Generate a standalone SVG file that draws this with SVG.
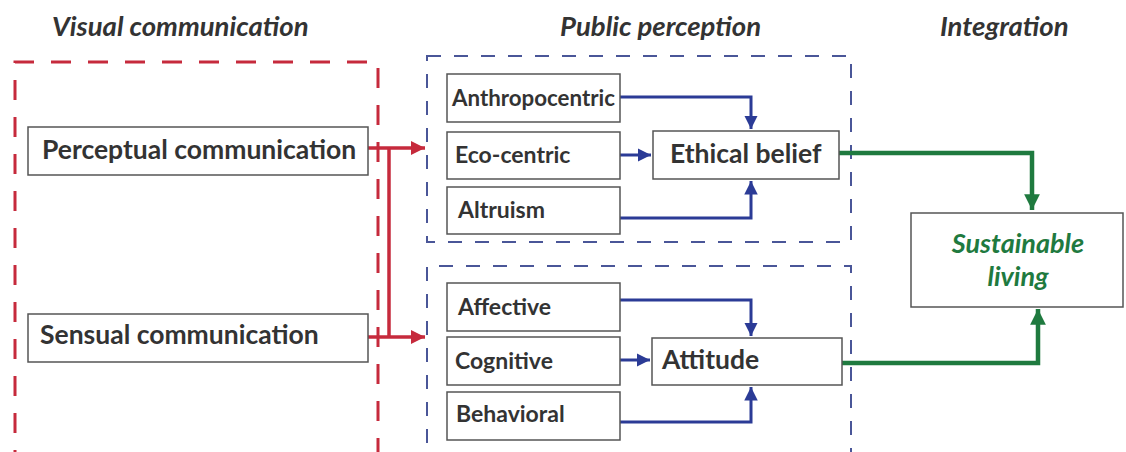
<svg xmlns="http://www.w3.org/2000/svg" width="1126" height="452" viewBox="0 0 1126 452">
<defs>
<style>
.box{fill:#fff;stroke:#555;stroke-width:1.5}
.t{font-family:Lato,"Open Sans","Liberation Sans",sans-serif;font-weight:bold;fill:#333}
.big{font-size:26.5px}
.sm{font-size:23px}
.hdr{font-family:Lato,"Open Sans","Liberation Sans",sans-serif;font-weight:bold;font-style:italic;font-size:27.5px;fill:#333}
.red{fill:none;stroke:#c62a3c;stroke-width:3.5}
.blu{fill:none;stroke:#2b3b96;stroke-width:3}
.grn{fill:none;stroke:#1f7a3f;stroke-width:4.5}
</style>
<marker id="mr" viewBox="0 0 10 10" refX="10" refY="5" markerWidth="4" markerHeight="4" markerUnits="strokeWidth" orient="auto"><path d="M0,0L10,5L0,10z" fill="#c62a3c"/></marker>
<marker id="mb" viewBox="0 0 10 10" refX="10" refY="5" markerWidth="4.5" markerHeight="4.5" markerUnits="strokeWidth" orient="auto"><path d="M0,0L10,5L0,10z" fill="#2b3b96"/></marker>
<marker id="mg" viewBox="0 0 10 10" refX="10" refY="5" markerWidth="3.5" markerHeight="3.5" markerUnits="strokeWidth" orient="auto"><path d="M0,0L10,5L0,10z" fill="#1f7a3f"/></marker>
</defs>
<rect width="1126" height="452" fill="#fff"/>
<g id="headers">
<text class="hdr" x="52" y="36">Visual communication</text>
<text class="hdr" x="560" y="36">Public perception</text>
<text class="hdr" x="940" y="36">Integration</text>
</g>
<g id="groups">
<path d="M15,470V62H378V470" fill="none" stroke="#c62a3c" stroke-width="3" stroke-dasharray="20 17"/>
<rect x="427" y="56" width="424" height="186" fill="none" stroke="#4a5698" stroke-width="2" stroke-dasharray="14 13"/>
<path d="M427,470V266H851V470" fill="none" stroke="#4a5698" stroke-width="2" stroke-dasharray="14 13"/>
</g>
<g id="connectors">
<path class="red" d="M368,148H425" marker-end="url(#mr)"/>
<path class="red" d="M368,337H425" marker-end="url(#mr)"/>
<path class="red" d="M389,148V337"/>
<path class="blu" d="M620,97H751V129" marker-end="url(#mb)"/>
<path class="blu" d="M620,155H651" marker-end="url(#mb)"/>
<path class="blu" d="M620,218H751V181" marker-end="url(#mb)"/>
<path class="blu" d="M620,300H751V336" marker-end="url(#mb)"/>
<path class="blu" d="M620,360H650" marker-end="url(#mb)"/>
<path class="blu" d="M620,422H751V387" marker-end="url(#mb)"/>
<path class="grn" d="M839,153H1032V210" marker-end="url(#mg)"/>
<path class="grn" d="M842,363H1038V309" marker-end="url(#mg)"/>
</g>
<g id="perceptual"><rect class="box" x="28" y="127" width="340" height="48"/><text class="t big" x="42" y="159">Perceptual communication</text></g>
<g id="sensual"><rect class="box" x="28" y="314" width="340" height="48"/><text class="t big" x="40" y="344">Sensual communication</text></g>
<g id="anthropocentric"><rect class="box" x="447" y="74" width="173" height="48"/><text class="t sm" x="452" y="106" textLength="163" lengthAdjust="spacingAndGlyphs">Anthropocentric</text></g>
<g id="ecocentric"><rect class="box" x="447" y="132" width="173" height="47"/><text class="t sm" x="455" y="163">Eco-centric</text></g>
<g id="altruism"><rect class="box" x="447" y="187" width="173" height="47"/><text class="t sm" x="458" y="218">Altruism</text></g>
<g id="ethical"><rect class="box" x="653" y="131" width="186" height="48"/><text class="t big" x="670" y="163">Ethical belief</text></g>
<g id="affective"><rect class="box" x="447" y="283" width="173" height="48"/><text class="t sm" x="458" y="315">Affective</text></g>
<g id="cognitive"><rect class="box" x="447" y="337" width="173" height="48"/><text class="t sm" x="455" y="369">Cognitive</text></g>
<g id="behavioral"><rect class="box" x="447" y="392" width="173" height="48"/><text class="t sm" x="456" y="422">Behavioral</text></g>
<g id="attitude"><rect class="box" x="652" y="338" width="190" height="47"/><text class="t big" x="662" y="369">Attitude</text></g>
<g id="sustainable"><rect class="box" x="911" y="213" width="212" height="94"/>
<text font-family="Lato,'Open Sans','Liberation Sans',sans-serif" font-weight="bold" font-style="italic" font-size="27" fill="#1f7a3f" text-anchor="middle"><tspan x="1018" y="253">Sustainable</tspan><tspan x="1018" y="286">living</tspan></text></g>
</svg>
